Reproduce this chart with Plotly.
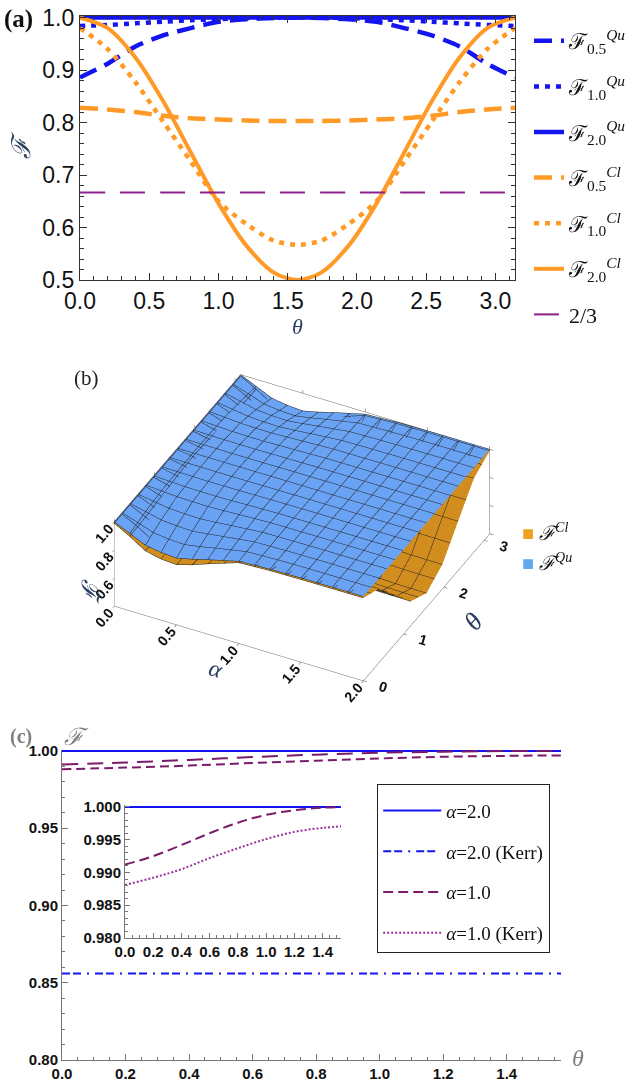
import plotly.graph_objects as go
import numpy as np

W, H = 629, 1084

# ---------------- Panel (a) data ----------------
theta_a = [0, 0.2, 0.4, 0.6, 0.8, 1.0, 1.2, 1.4, 1.5708, 1.7416, 1.9416, 2.1416,
           2.3416, 2.5416, 2.7416, 2.9416, 3.1416]
qu_05 = [0.886, 0.912, 0.945, 0.966, 0.980, 0.992, 0.997, 0.999, 1.000, 0.999, 0.997,
         0.992, 0.980, 0.966, 0.945, 0.912, 0.886]
qu_10 = [0.984, 0.986, 0.989, 0.992, 0.995, 0.997, 0.999, 1.000, 1.000, 1.000, 0.999,
         0.997, 0.995, 0.992, 0.989, 0.986, 0.984]
qu_20 = [1.000, 1.000, 1.000, 1.000, 1.000, 1.000, 1.000, 1.000, 1.000, 1.000, 1.000,
         1.000, 1.000, 1.000, 1.000, 1.000, 1.000]
cl_05 = [0.828, 0.825, 0.820, 0.813, 0.808, 0.806, 0.804, 0.803, 0.803, 0.803, 0.804,
         0.806, 0.808, 0.813, 0.820, 0.825, 0.828]
cl_10 = [0.980, 0.940, 0.877, 0.802, 0.726, 0.650, 0.607, 0.575, 0.567, 0.575, 0.607,
         0.650, 0.726, 0.802, 0.877, 0.940, 0.980]
cl_20 = [1.000, 0.980, 0.924, 0.841, 0.743, 0.646, 0.566, 0.514, 0.500, 0.514, 0.566,
         0.646, 0.743, 0.841, 0.924, 0.980, 1.000]
two_thirds = [0.6667, 0.6667, 0.6667, 0.6667, 0.6667, 0.6667, 0.6667, 0.6667, 0.6667,
              0.6667, 0.6667, 0.6667, 0.6667, 0.6667, 0.6667, 0.6667, 0.6667]

# ---------------- Panel (b) data ----------------
alpha_b = [0, 0.125, 0.25, 0.375, 0.5, 0.625, 0.75, 1.0, 1.25, 1.5, 1.75, 2.0]
theta_b = [0, 0.3927, 0.7854, 1.1781, 1.5708, 1.9635, 2.3562, 2.7489, 3.1416]
# rows: one per alpha value, entries over theta_b
qu_rows = [
    [1.000, 1.000, 1.000, 1.000, 1.000, 1.000, 1.000, 1.000, 1.000],
    [0.950, 0.975, 0.992, 0.998, 1.000, 0.998, 0.992, 0.975, 0.950],
    [0.900, 0.949, 0.984, 0.996, 1.000, 0.996, 0.984, 0.949, 0.900],
    [0.882, 0.940, 0.981, 0.995, 1.000, 0.995, 0.981, 0.940, 0.882],
    [0.875, 0.936, 0.980, 0.995, 1.000, 0.995, 0.980, 0.936, 0.875],
    [0.900, 0.949, 0.984, 0.996, 1.000, 0.996, 0.984, 0.949, 0.900],
    [0.930, 0.964, 0.989, 0.997, 1.000, 0.997, 0.989, 0.964, 0.930],
    [0.985, 0.992, 0.998, 0.999, 1.000, 0.999, 0.998, 0.992, 0.985],
    [0.995, 0.997, 0.999, 1.000, 1.000, 1.000, 0.999, 0.997, 0.995],
    [0.999, 0.9995, 1.000, 1.000, 1.000, 1.000, 1.000, 0.9995, 0.999],
    [1.000, 1.000, 1.000, 1.000, 1.000, 1.000, 1.000, 1.000, 1.000],
    [1.000, 1.000, 1.000, 1.000, 1.000, 1.000, 1.000, 1.000, 1.000],
]
cl_rows = [
    [0.990, 0.990, 0.990, 0.990, 0.990, 0.990, 0.990, 0.990, 0.990],
    [0.930, 0.937, 0.953, 0.968, 0.975, 0.968, 0.953, 0.937, 0.930],
    [0.860, 0.869, 0.890, 0.911, 0.920, 0.911, 0.890, 0.869, 0.860],
    [0.835, 0.839, 0.848, 0.856, 0.860, 0.856, 0.848, 0.839, 0.835],
    [0.828, 0.825, 0.816, 0.807, 0.803, 0.807, 0.816, 0.825, 0.828],
    [0.860, 0.841, 0.795, 0.749, 0.730, 0.749, 0.795, 0.841, 0.860],
    [0.900, 0.866, 0.785, 0.704, 0.670, 0.704, 0.785, 0.866, 0.900],
    [0.975, 0.880, 0.740, 0.610, 0.567, 0.610, 0.740, 0.880, 0.975],
    [0.985, 0.927, 0.763, 0.598, 0.530, 0.598, 0.763, 0.927, 0.985],
    [0.988, 0.925, 0.754, 0.582, 0.510, 0.582, 0.754, 0.925, 0.988],
    [0.989, 0.925, 0.751, 0.575, 0.502, 0.575, 0.751, 0.925, 0.989],
    [0.990, 0.925, 0.750, 0.573, 0.500, 0.573, 0.750, 0.925, 0.990],
]
z_ticks_b = [0.4, 0.6, 0.8, 1.0]
z_ticktext_b = ["0.0", "0.6", "0.8", "1.0"]

# ---------------- Panel (c) data ----------------
theta_c = [0, 0.2, 0.4, 0.6, 0.8, 1.0, 1.2, 1.4, 1.5708]
f_a2 = [1.0, 1.0, 1.0, 1.0, 1.0, 1.0, 1.0, 1.0, 1.0]
f_a2_kerr = [0.856, 0.856, 0.856, 0.856, 0.856, 0.856, 0.856, 0.856, 0.856]
f_a1 = [0.9912, 0.9925, 0.9942, 0.9960, 0.9976, 0.9988, 0.9995, 0.9999, 1.0]
f_a1_kerr = [0.9881, 0.9892, 0.9905, 0.9922, 0.9937, 0.9951, 0.9962, 0.9968, 0.9971]


def px(x):
    return x / W


def py(y):
    return 1 - y / H


BLUE = "#1414f0"
ORANGE = "#ff9a26"
PURPLE = "#8e1f8e"
DPURPLE = "#7a1a6a"

fig = go.Figure()

# ---- (a) traces ----
a_specs = [
    (qu_05, BLUE, 4.5, "18px,9px", "ℱ<sub>0.5</sub><sup><i>Qu</i></sup>"),
    (qu_10, BLUE, 4.5, "5px,6px", "ℱ<sub>1.0</sub><sup><i>Qu</i></sup>"),
    (qu_20, BLUE, 4.5, "solid", "ℱ<sub>2.0</sub><sup><i>Qu</i></sup>"),
    (cl_05, ORANGE, 4.5, "18px,9px", "ℱ<sub>0.5</sub><sup><i>Cl</i></sup>"),
    (cl_10, ORANGE, 4.5, "5px,6px", "ℱ<sub>1.0</sub><sup><i>Cl</i></sup>"),
    (cl_20, ORANGE, 4, "solid", "ℱ<sub>2.0</sub><sup><i>Cl</i></sup>"),
    (two_thirds, PURPLE, 2, "25px,15px", "2/3"),
]
for i, (ys, col, w, dash, name) in enumerate(a_specs):
    fig.add_trace(go.Scatter(
        x=theta_a, y=ys, mode="lines", name=name,
        line=dict(color=col, width=w, dash=dash, shape="spline", smoothing=0.8),
        xaxis="x", yaxis="y", legend="legend", legendgroup=f"a{i}",
        hoverinfo="skip"))

# ---- (b) surfaces ----
z_qu = np.array(qu_rows).T
z_cl = np.array(cl_rows).T
mesh = dict(
    x=dict(show=True, start=0, end=2, size=0.125, color="#222", width=1, highlight=False),
    y=dict(show=True, start=0, end=3.1416, size=3.1416 / 16, color="#222", width=1, highlight=False),
    z=dict(highlight=False),
)
fig.add_trace(go.Surface(
    x=alpha_b, y=theta_b, z=z_cl, scene="scene", showscale=False,
    colorscale=[[0, "#f7a625"], [1, "#f7a625"]], contours=mesh,
    lighting=dict(ambient=0.85, diffuse=0.4, specular=0.1, roughness=0.8, fresnel=0.05),
    lightposition=dict(x=1000, y=-2000, z=3000), hoverinfo="skip", showlegend=False))
fig.add_trace(go.Surface(
    x=alpha_b, y=theta_b, z=z_qu, scene="scene", showscale=False,
    colorscale=[[0, "#6aa2f4"], [1, "#6aa2f4"]], contours=mesh,
    lighting=dict(ambient=1.0, diffuse=0.25, specular=0.08, roughness=0.8, fresnel=0.05),
    lightposition=dict(x=1000, y=-2000, z=3000), hoverinfo="skip", showlegend=False))

# ---- (c) traces ----
fig.add_trace(go.Scatter(x=theta_c, y=f_a2, mode="lines", name="<i>α</i>=2.0",
                         line=dict(color=BLUE, width=2), xaxis="x2", yaxis="y2",
                         legend="legend2", legendgroup="c1", legendrank=1, hoverinfo="skip"))
fig.add_trace(go.Scatter(x=theta_c, y=f_a2_kerr, mode="lines", name="<i>α</i>=2.0 (Kerr)",
                         line=dict(color=BLUE, width=2, dash="8px,3px,8px,6px,2px,6px"),
                         xaxis="x2", yaxis="y2", legend="legend2", legendgroup="c2",
                         legendrank=2, hoverinfo="skip"))
fig.add_trace(go.Scatter(x=theta_c, y=f_a1, mode="lines", showlegend=False,
                         line=dict(color=DPURPLE, width=2, dash="16px,9px", shape="spline"),
                         xaxis="x2", yaxis="y2", hoverinfo="skip"))
fig.add_trace(go.Scatter(x=theta_c, y=f_a1_kerr, mode="lines", showlegend=False,
                         line=dict(color=DPURPLE, width=2, dash="9px,5px", shape="spline"),
                         xaxis="x2", yaxis="y2", hoverinfo="skip"))
# inset
fig.add_trace(go.Scatter(x=theta_c, y=f_a2, mode="lines", showlegend=False,
                         line=dict(color=BLUE, width=2), xaxis="x3", yaxis="y3", hoverinfo="skip"))
fig.add_trace(go.Scatter(x=theta_c, y=f_a1, mode="lines", name="<i>α</i>=1.0",
                         line=dict(color=DPURPLE, width=2, dash="10px,5px", shape="spline"),
                         xaxis="x3", yaxis="y3", legend="legend2", legendgroup="c3",
                         legendrank=3, hoverinfo="skip"))
fig.add_trace(go.Scatter(x=theta_c, y=f_a1_kerr, mode="lines", name="<i>α</i>=1.0 (Kerr)",
                         line=dict(color="#99309a", width=2, dash="2px,2px", shape="spline"),
                         xaxis="x3", yaxis="y3", legend="legend2", legendgroup="c4",
                         legendrank=4, hoverinfo="skip"))

sans = "Liberation Sans, Arial, sans-serif"
serif = "Liberation Serif, Times New Roman, serif"

frame_axis = dict(showline=True, linecolor="#333", linewidth=1.2, mirror="allticks",
                  ticks="inside", ticklen=7, tickcolor="#333", showgrid=False,
                  zeroline=False, automargin=False,
                  tickfont=dict(family=sans, size=23, color="#111"))

c_axis = dict(showline=True, linecolor="#777", linewidth=1, ticks="inside", ticklen=6,
              tickcolor="#777", showgrid=False, zeroline=False, automargin=False,
              tickfont=dict(family=sans, size=15, color="#111", weight="bold"))

axis3d = dict(showbackground=False, showgrid=False, zeroline=False, showline=True,
              linecolor="#666", mirror="all", ticks="outside", ticklen=4,
              tickfont=dict(family=sans, size=13, color="#111", weight="bold"),
              showspikes=False)

fig.update_layout(
    width=W, height=H, margin=dict(l=0, r=0, t=0, b=0, autoexpand=False),
    paper_bgcolor="white", plot_bgcolor="white",
    xaxis=dict(frame_axis, domain=[px(80), px(515)], range=[0, 3.1416],
               tickvals=[0, 0.5, 1.0, 1.5, 2.0, 2.5, 3.0],
               ticktext=["0.0", "0.5", "1.0", "1.5", "2.0", "2.5", "3.0"],
               minor=dict(dtick=0.1, ticks="inside", ticklen=4, tickcolor="#333"),
               title=dict(text="<i>θ</i>", font=dict(family=serif, size=22), standoff=0),
               anchor="y"),
    yaxis=dict(frame_axis, domain=[py(280), py(16)], range=[0.5, 1.003],
               tickvals=[0.5, 0.6, 0.7, 0.8, 0.9, 1.0],
               ticktext=["0.5", "0.6", "0.7", "0.8", "0.9", "1.0"],
               minor=dict(dtick=0.02, ticks="inside", ticklen=4, tickcolor="#333"),
               title=dict(text="<i>ℱ</i>", font=dict(family=serif, size=26), standoff=4),
               anchor="x"),
    xaxis2=dict(c_axis, domain=[px(62), px(561)], range=[0, 1.5708], anchor="y2",
                tickvals=[0, 0.2, 0.4, 0.6, 0.8, 1.0, 1.2, 1.4],
                ticktext=["0.0", "0.2", "0.4", "0.6", "0.8", "1.0", "1.2", "1.4"],
                minor=dict(dtick=0.05, ticks="inside", ticklen=3, tickcolor="#777")),
    yaxis2=dict(c_axis, domain=[py(1060), py(750)], range=[0.8, 1.0006], anchor="x2",
                tickvals=[0.8, 0.85, 0.9, 0.95, 1.0],
                ticktext=["0.80", "0.85", "0.90", "0.95", "1.00"],
                minor=dict(dtick=0.01, ticks="inside", ticklen=3, tickcolor="#777")),
    xaxis3=dict(c_axis, domain=[px(125), px(341)], range=[0, 1.53], anchor="y3", ticklen=5,
                tickvals=[0, 0.2, 0.4, 0.6, 0.8, 1.0, 1.2, 1.4],
                ticktext=["0.0", "0.2", "0.4", "0.6", "0.8", "1.0", "1.2", "1.4"],
                minor=dict(dtick=0.05, ticks="inside", ticklen=3, tickcolor="#777")),
    yaxis3=dict(c_axis, domain=[py(938), py(805)], range=[0.98, 1.0003], anchor="x3", ticklen=5,
                tickvals=[0.98, 0.985, 0.99, 0.995, 1.0],
                ticktext=["0.980", "0.985", "0.990", "0.995", "1.000"],
                minor=dict(dtick=0.001, ticks="inside", ticklen=3, tickcolor="#777")),
    scene=dict(
        domain=dict(x=[0.06, 0.90], y=[py(732), py(330)]),
        aspectmode="manual", aspectratio=dict(x=1.39, y=1.39, z=0.52),
        camera=dict(eye=dict(x=0.68, y=-1.34, z=1.08),
                    center=dict(x=0.0, y=0.0, z=-0.02),
                    projection=dict(type="orthographic")),
        bgcolor="rgba(0,0,0,0)",
        xaxis=dict(axis3d, range=[0, 2],
                   title=dict(text="<i>α</i>", font=dict(family=serif, size=24)),
                   tickvals=[0.5, 1.0, 1.5, 2.0], ticktext=["0.5", "1.0", "1.5", "2.0"]),
        yaxis=dict(axis3d, range=[0, 3.1416],
                   title=dict(text="<i>θ</i>", font=dict(family=serif, size=26)),
                   tickvals=[0, 1, 2, 3], ticktext=["0", "1", "2", "3"]),
        zaxis=dict(axis3d, range=[0.4, 1.0],
                   title=dict(text="<i>ℱ</i>", font=dict(family=serif, size=24)),
                   tickvals=z_ticks_b, ticktext=z_ticktext_b),
    ),
    legend=dict(x=px(529), y=py(20), xanchor="left", yanchor="top",
                xref="container", yref="container",
                font=dict(family=serif, size=22, color="#111"),
                bgcolor="rgba(0,0,0,0)", tracegroupgap=14, itemwidth=30),
    legend2=dict(x=px(377), y=py(784), xanchor="left", yanchor="top",
                 xref="container", yref="container",
                 font=dict(family=serif, size=19, color="#111"),
                 title=dict(text=" ", font=dict(size=5)),
                 bgcolor="white", bordercolor="#222", borderwidth=1.2,
                 tracegroupgap=13, itemwidth=58),
    showlegend=True,
)

annos = [
    dict(x=px(2), y=py(19), text="<b>(a)</b>", font=dict(family=serif, size=25, color="#111"),
         xanchor="left", yanchor="middle"),
    dict(x=px(72), y=py(378), text="(b)", font=dict(family=serif, size=21, color="#222"),
         xanchor="left", yanchor="middle"),
    dict(x=px(8), y=py(736), text="<b>(c)</b>", font=dict(family=serif, size=20, color="#808080"),
         xanchor="left", yanchor="middle"),
    dict(x=px(62), y=py(737), text="<i>ℱ</i>", font=dict(family=serif, size=24, color="#808080"),
         xanchor="left", yanchor="middle"),
    dict(x=px(570), y=py(1058), text="<i>θ</i>", font=dict(family=serif, size=24, color="#808080"),
         xanchor="left", yanchor="middle"),
    dict(x=px(520), y=py(532), text='<span style="color:#f0a020">■</span> <i>ℱ</i><sup><i>Cl</i></sup>',
         font=dict(family=serif, size=20, color="#111"), xanchor="left", yanchor="middle"),
    dict(x=px(520), y=py(562), text='<span style="color:#60a8f0">■</span> <i>ℱ</i><sup><i>Qu</i></sup>',
         font=dict(family=serif, size=20, color="#111"), xanchor="left", yanchor="middle"),
]
for a in annos:
    a.update(xref="paper", yref="paper", showarrow=False)
fig.update_layout(annotations=annos)

fig.write_html("out.html")
